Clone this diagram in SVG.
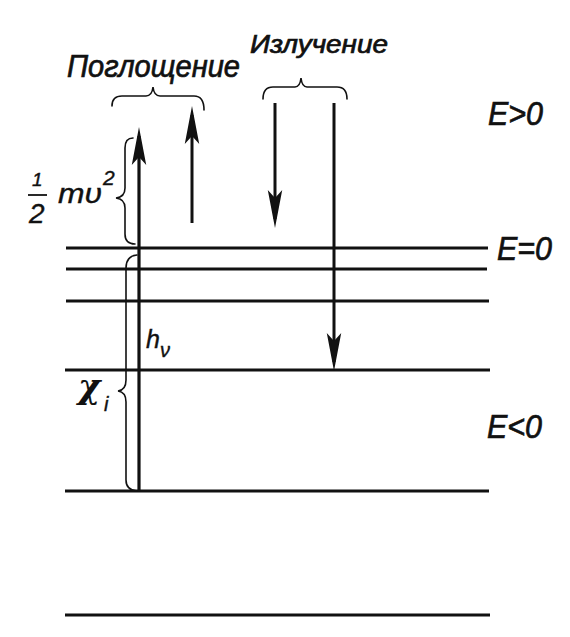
<svg xmlns="http://www.w3.org/2000/svg" width="570" height="637" viewBox="0 0 570 637">
<defs>
<style>
.lvl{stroke:#111;stroke-width:3;fill:none}
.arr{stroke:#111;stroke-width:3;fill:none;marker-end:url(#ah)}
.brace{stroke:#111;stroke-width:1.6;fill:none;stroke-linecap:round}
.lbl{font-family:"Liberation Sans","DejaVu Sans",sans-serif;font-style:italic;fill:#111;stroke:#111;stroke-width:0.7}
.math{font-family:"Liberation Sans","DejaVu Sans",sans-serif;font-style:italic;fill:#111;stroke:#111;stroke-width:0.4}
</style>
<marker id="ah" markerUnits="userSpaceOnUse" markerWidth="40" markerHeight="20" viewBox="0 -8 36 16" refX="26" refY="0" orient="auto">
<path d="M0,-6.5 L34,0 L0,6.5 L7,0 Z" fill="#111"/>
</marker>
</defs>
<rect width="570" height="637" fill="#fff"/>
<g id="levels">
<line class="lvl" x1="66" y1="248" x2="488" y2="248"/>
<line class="lvl" x1="66" y1="269" x2="487" y2="269"/>
<line class="lvl" x1="66" y1="301" x2="489" y2="301"/>
<line class="lvl" x1="65" y1="370" x2="490" y2="370"/>
<line class="lvl" x1="65" y1="491" x2="489" y2="491"/>
<line class="lvl" x1="65" y1="615" x2="490" y2="615"/>
</g>
<g id="connectors">
<line class="arr" x1="139" y1="491" x2="139" y2="136" style="stroke-width:3.2"/>
<line class="arr" x1="192" y1="223" x2="192" y2="115"/>
<line class="arr" x1="275" y1="103" x2="275" y2="219"/>
<line class="arr" x1="334" y1="103" x2="334" y2="362"/>
</g>
<g id="braces">
<path class="brace" d="M112,106 Q112,96 122,96 L146,96 Q152,96 153,87 Q154,96 160,96 L194,96 Q204,96 204,110"/>
<path class="brace" d="M263,99 Q263,87 273,87 L295,87 Q300,87 301,78 Q302,87 307,87 L337,87 Q347,87 347,99"/>
<path class="brace" d="M133,138 Q125,138 125,148 L125,188 Q125,197 116,198 Q125,199 125,208 L125,234 Q125,244 135,244"/>
<path class="brace" d="M137,255 Q126,256 126,268 L126,380 Q126,390 118,391 Q126,392 126,402 L126,480 Q126,490 137,491"/>
</g>
<g id="labels">
<text class="lbl" x="67" y="77" font-size="31" textLength="173" lengthAdjust="spacingAndGlyphs">Поглощение</text>
<text class="lbl" x="250" y="53" font-size="25" textLength="138" lengthAdjust="spacingAndGlyphs">Излучение</text>
<text class="lbl" x="488" y="125" font-size="33" textLength="55" lengthAdjust="spacingAndGlyphs">E&gt;0</text>
<text class="lbl" x="497" y="260" font-size="33" textLength="55" lengthAdjust="spacingAndGlyphs">E=0</text>
<text class="lbl" x="487" y="438" font-size="33" textLength="55" lengthAdjust="spacingAndGlyphs">E&lt;0</text>
</g>
<g id="formulas">
<text class="math" x="32" y="186" font-size="19">1</text>
<line x1="28" y1="195" x2="47" y2="195" stroke="#111" stroke-width="1.8"/>
<text class="math" x="29" y="223" font-size="28">2</text>
<text class="math" x="58" y="203" font-size="28" textLength="44" lengthAdjust="spacingAndGlyphs">mυ</text>
<text class="math" x="103" y="185" font-size="21">2</text>
<text class="math" x="146" y="348" font-size="25">h</text>
<text class="math" x="160" y="357" font-size="20">ν</text>
<text x="78" y="398" font-size="34" font-family="'DejaVu Serif','Liberation Serif',serif" font-style="italic" font-weight="bold" fill="#111">χ</text>
<text class="math" x="104" y="411" font-size="20">i</text>
</g>
</svg>
